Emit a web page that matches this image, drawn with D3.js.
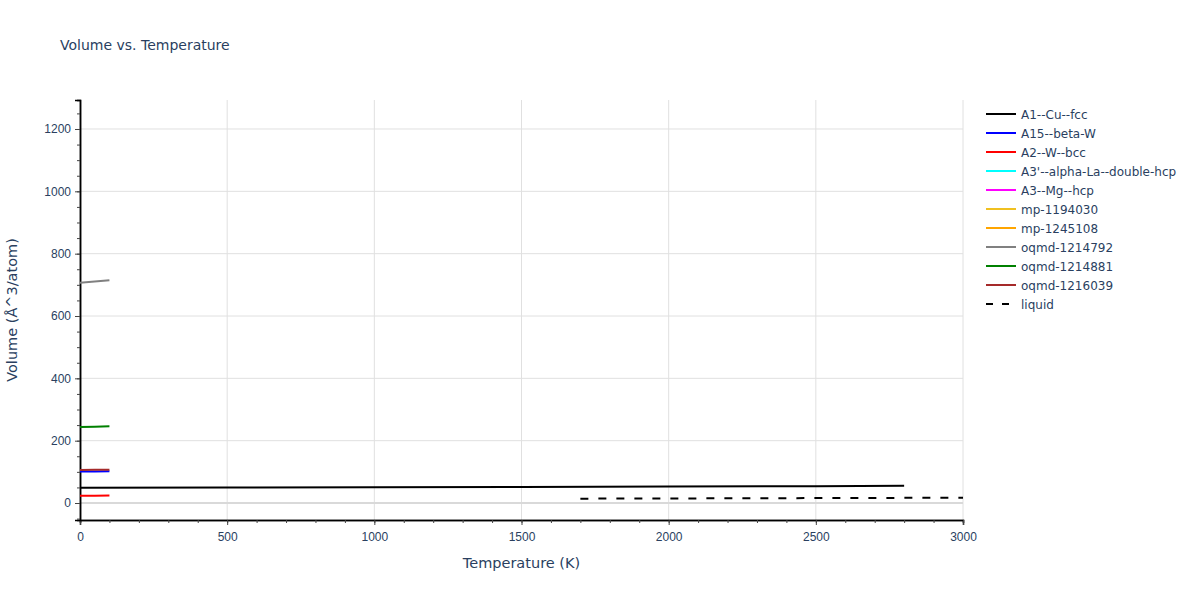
<!DOCTYPE html>
<meta charset="utf-8">
<style>
body { margin: 0; background: #fff; }
svg { font-family: "DejaVu Sans", verdana, arial, sans-serif; }
.grid line { stroke: #e0e0e0; stroke-width: 1; }
.tick text { fill: #2a3f5f; font-size: 12px; }
.legend text { fill: #2a3f5f; font-size: 12px; }
</style>
<body>
<script src="https://cdn.jsdelivr.net/npm/d3@7"></script>
<script>

// ---- data ----
var seriesNames = ["A1--Cu--fcc", "A15--beta-W", "A2--W--bcc", "A3'--alpha-La--double-hcp",
    "A3--Mg--hcp", "mp-1194030", "mp-1245108", "oqmd-1214792", "oqmd-1214881",
    "oqmd-1216039", "liquid"]
var seriesColors = ["black", "blue", "red", "cyan", "magenta", "#f0c020", "orange",
    "grey", "green", "brown", "black"]

var tempA1 = [0, 500, 1000, 1500, 2000, 2500, 2800]
var volA1 = [49, 49.8, 50.7, 51.7, 52.8, 54, 55]
var tempLow = [0, 50, 100]
var volA15 = [101, 101.5, 102]
var volA2 = [23.5, 23.6, 23.8]
var volOqmd792 = [707, 711, 715]
var volOqmd881 = [244, 245, 246]
var volOqmd039 = [106, 106.5, 107]
var tempLiquid = [1700, 2000, 2500, 3000]
var volLiquid = [14, 14.6, 15.8, 17]

var xTicks = [0, 500, 1000, 1500, 2000, 2500, 3000]
var yTicks = [0, 200, 400, 600, 800, 1000, 1200]

function pairs(t, v) { return t.map(function (d, i) { return [d, v[i]] }) }

var series = [
    pairs(tempA1, volA1),
    pairs(tempLow, volA15),
    pairs(tempLow, volA2),
    [], [], [], [],
    pairs(tempLow, volOqmd792),
    pairs(tempLow, volOqmd881),
    pairs(tempLow, volOqmd039),
    pairs(tempLiquid, volLiquid)
]

// ---- layout ----
var width = 1200, height = 600
var plotL = 80, plotR = 963, plotT = 100, plotB = 520

var svg = d3.select('body').append('svg')
    .attr('width', width)
    .attr('height', height)

var x = d3.scaleLinear().domain([0, 3000]).range([plotL, plotR])
var y = d3.scaleLinear().domain([-54.5, 1293]).range([plotB, plotT])

// grid
var grid = svg.append('g').attr('class', 'grid')
grid.selectAll('.gx').data(xTicks.slice(1)).enter().append('line')
    .attr('x1', x).attr('x2', x).attr('y1', plotT).attr('y2', plotB)
grid.selectAll('.gy').data(yTicks.slice(1)).enter().append('line')
    .attr('x1', plotL).attr('x2', plotR).attr('y1', y).attr('y2', y)
// zero line
svg.append('line')
    .attr('x1', plotL).attr('x2', plotR).attr('y1', y(0)).attr('y2', y(0))
    .attr('stroke', '#d9d9d9').attr('stroke-width', 2)

// axes
var fmt = d3.format('d')
var xAxis = svg.append('g')
    .attr('transform', 'translate(0,' + plotB + ')')
    .call(d3.axisBottom(x).tickValues(xTicks).tickSize(5).tickPadding(5).tickFormat(fmt))
var xMinor = svg.append('g')
    .attr('transform', 'translate(0,' + plotB + ')')
    .call(d3.axisBottom(x).tickValues(d3.range(0, 3001, 100)).tickSize(3).tickFormat(''))
var yAxis = svg.append('g')
    .attr('transform', 'translate(' + plotL + ',0)')
    .call(d3.axisLeft(y).tickValues(yTicks).tickSize(5).tickPadding(4).tickFormat(fmt))
var yMinor = svg.append('g')
    .attr('transform', 'translate(' + plotL + ',0)')
    .call(d3.axisLeft(y).tickValues(d3.range(-50, 1293, 50)).tickSize(3).tickFormat(''))

;[xAxis, yAxis, xMinor, yMinor].forEach(function (g) {
    g.select('.domain').attr('stroke', '#000').attr('stroke-width', 1.5)
    g.selectAll('.tick line').attr('stroke', '#444')
})
xAxis.selectAll('.tick text').attr('dy', '0.9em')

// lines
svg.append('clipPath').attr('id', 'clip')
    .append('rect').attr('x', plotL).attr('y', plotT)
    .attr('width', plotR - plotL).attr('height', plotB - plotT)

var line = d3.line()
    .x(function (d) { return x(d[0]) })
    .y(function (d) { return y(d[1]) })

svg.append('g').attr('clip-path', 'url(#clip)')
    .selectAll('path')
    .data(series)
    .enter().append('path')
    .attr('d', function (d) { return d.length ? line(d) : null })
    .attr('fill', 'none')
    .attr('stroke', function (d, i) { return seriesColors[i] })
    .attr('stroke-width', 2)
    .attr('stroke-dasharray', function (d, i) { return seriesNames[i] === 'liquid' ? '8,10' : null })

// titles
svg.append('text')
    .attr('x', 60).attr('y', 50)
    .attr('fill', '#2a3f5f').style('font-size', '14px')
    .text('Volume vs. Temperature')

svg.append('text')
    .attr('x', (plotL + plotR) / 2).attr('y', 568)
    .attr('text-anchor', 'middle')
    .attr('fill', '#2a3f5f').style('font-size', '14.5px')
    .text('Temperature (K)')

svg.append('text')
    .attr('transform', 'translate(17,' + ((plotT + plotB) / 2) + ') rotate(-90)')
    .attr('text-anchor', 'middle')
    .attr('fill', '#2a3f5f').style('font-size', '14.5px')
    .text('Volume (Å^3/atom)')

// legend
var legend = svg.append('g').attr('class', 'legend')
    .selectAll('g')
    .data(seriesNames)
    .enter().append('g')
    .attr('transform', function (d, i) { return 'translate(986,' + (114 + i * 19) + ')' })

legend.append('line')
    .attr('x1', 0).attr('x2', 30)
    .attr('stroke', function (d, i) { return seriesColors[i] })
    .attr('stroke-width', 2)
    .attr('stroke-dasharray', function (d) { return d === 'liquid' ? '7,9' : null })

legend.append('text')
    .attr('x', 35).attr('y', 4.5)
    .text(function (d) { return d })

</script>
</body>
